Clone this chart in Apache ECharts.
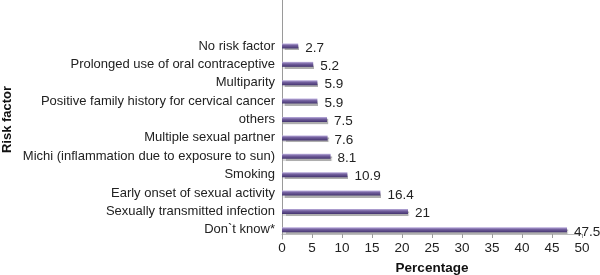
<!DOCTYPE html>
<html>
<head>
<meta charset="utf-8">
<script src="https://cdn.jsdelivr.net/npm/echarts@6/dist/echarts.min.js"></script>
<style>html,body{margin:0;padding:0;background:#fff}#c{width:600px;height:275px}</style>
</head>
<body>
<div id="c"></div>
<script>
// bottom-to-top order
var categories = [
  "Don`t know*",
  "Sexually transmitted infection",
  "Early onset of sexual activity",
  "Smoking",
  "Michi (inflammation due to exposure to sun)",
  "Multiple sexual partner",
  "others",
  "Positive family history for cervical cancer",
  "Multiparity",
  "Prolonged use of oral contraceptive",
  "No risk factor"
];
var percentages = [47.5, 21, 16.4, 10.9, 8.1, 7.6, 7.5, 5.9, 5.9, 5.2, 2.7];
var xTicks = [0, 5, 10, 15, 20, 25, 30, 35, 40, 45, 50];

var chart = echarts.init(document.getElementById('c'), null, {renderer: 'canvas'});
var font = 'Arial, "Liberation Sans", Helvetica, sans-serif';
chart.setOption({
  animation: false,
  grid: {left: 282, right: 18, top: 0, bottom: 36, containLabel: false, outerBoundsMode: 'none'},
  xAxis: {
    type: 'value',
    min: xTicks[0], max: xTicks[xTicks.length - 1], interval: 5,
    offset: -5,
    splitLine: {show: false},
    axisLine: {show: true, lineStyle: {color: '#bdbdbd', width: 1}},
    axisTick: {show: true, length: 4, lineStyle: {color: '#9a9a9a'}},
    axisLabel: {fontFamily: font, fontSize: 13.5, color: '#222', margin: 7},
    name: 'Percentage',
    nameLocation: 'middle',
    nameGap: 27,
    nameTextStyle: {fontFamily: font, fontSize: 13.5, fontWeight: 'bold', color: '#111'}
  },
  yAxis: {
    type: 'category',
    data: categories,
    max: 12,
    axisLine: {show: true, lineStyle: {color: '#9a9a9a', width: 1}},
    axisTick: {show: false},
    axisLabel: {fontFamily: font, fontSize: 13, color: '#222', margin: 7, padding: [0, 0, 5, 0], interval: 0},
    name: 'Risk factor',
    nameLocation: 'middle',
    nameGap: 268,
    nameRotate: 90,
    nameTextStyle: {fontFamily: font, fontSize: 13, fontWeight: 'bold', color: '#111'}
  },
  series: [{
    type: 'bar',
    data: percentages,
    barWidth: 5,
    itemStyle: {
      color: new echarts.graphic.LinearGradient(0, 0, 0, 1, [
        {offset: 0, color: '#bfb2e0'},
        {offset: 0.4, color: '#74619f'},
        {offset: 1, color: '#44346f'}
      ]),
      shadowColor: 'rgba(120,120,120,0.6)',
      shadowOffsetY: 2,
      shadowOffsetX: 1,
      shadowBlur: 1
    },
    label: {
      show: true,
      position: 'right',
      distance: 7,
      offset: [0, 2],
      fontFamily: font,
      fontSize: 13.5,
      color: '#222'
    }
  }]
});
</script>
</body>
</html>
